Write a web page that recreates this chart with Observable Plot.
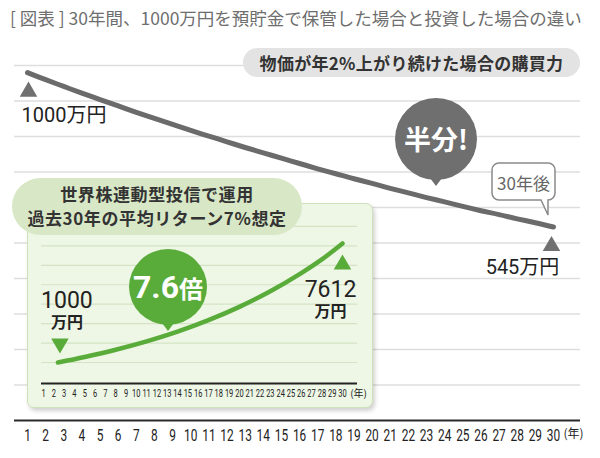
<!DOCTYPE html>
<html>
<head>
<meta charset="utf-8">
<script src="https://cdn.jsdelivr.net/npm/d3@7"></script>
<script src="https://cdn.jsdelivr.net/npm/@observablehq/plot@0.6"></script>
<style>
  body { margin: 0; background: #fff; }
  #wrap { position: relative; width: 600px; height: 458px; overflow: hidden; font-family: "Noto Sans CJK JP", sans-serif; }
  .abs { position: absolute; }
  #title { left: 10px; top: 6px; font-size: 17.5px; line-height: 24px; color: #6e6e6e; white-space: nowrap; }
  #pillGray { left: 243px; top: 48px; width: 337px; height: 29px; border-radius: 15px; background: #e3e3e3; color: #333; font-size: 17px; font-weight: bold; line-height: 29px; text-align: center; letter-spacing: 0.3px; white-space: nowrap; }
  #bubbleGray { left: 395px; top: 98px; width: 82px; height: 82px; border-radius: 50%; background: #6f6f6f; color: #fff; font-size: 27px; font-weight: bold; line-height: 82px; text-align: center; }
  #bubbleGray::after { content: ""; position: absolute; left: 35px; top: 80px; border-left: 6px solid transparent; border-right: 6px solid transparent; border-top: 8px solid #6f6f6f; }
  #box { left: 27px; top: 203px; width: 346px; height: 205px; box-sizing: border-box; border-radius: 7px; background: #eef6e6; border: 1.5px solid #cde2b8; box-shadow: 2px 3px 4px rgba(0,0,0,0.18); }
  #inset { left: 27px; top: 203px; }
  #pillGreen { left: 12px; top: 178px; width: 290px; height: 57px; border-radius: 29px; background: #d8e8c6; color: #333; font-size: 17px; font-weight: bold; line-height: 24px; padding-top: 4px; box-sizing: border-box; text-align: center; letter-spacing: 0.6px; white-space: nowrap; }
  #bubbleGreen { left: 129px; top: 249px; width: 78px; height: 76px; border-radius: 50%; background: #5aac3a; color: #fff; font-weight: bold; line-height: 76px; text-align: center; white-space: nowrap; }
  #bubbleGreen::after { content: ""; position: absolute; left: 33px; top: 74px; border-left: 6px solid transparent; border-right: 6px solid transparent; border-top: 8px solid #5aac3a; }
  #bubbleGreen .n { font-family: Roboto, sans-serif; font-size: 32px; }
  #bubbleGreen .u { font-size: 24px; }
</style>
</head>
<body>
<div id="wrap">
  <div id="main" class="abs" style="left:0;top:0"></div>
  <div id="title" class="abs">[ 図表 ] 30年間、1000万円を預貯金で保管した場合と投資した場合の違い</div>
  <div id="pillGray" class="abs">物価が年2%上がり続けた場合の購買力</div>
  <div id="bubbleGray" class="abs">半分!</div>
  <svg class="abs" style="left:490px;top:161px" width="70" height="58">
    <path d="M9,2 H58 A7,7 0 0 1 65,9 V32 A7,7 0 0 1 58,39 L58,54 L51,39 H9 A7,7 0 0 1 2,32 V9 A7,7 0 0 1 9,2 Z" fill="#fff" stroke="#8a8a8a" stroke-width="1.5"/>
    <text x="33.5" y="21" text-anchor="middle" dominant-baseline="central" font-family="Noto Sans CJK JP, sans-serif" font-size="17" fill="#666">30年後</text>
  </svg>
  <div id="box" class="abs"></div>
  <div id="inset" class="abs"></div>
  <div id="pillGreen" class="abs">世界株連動型投信で運用<br>過去30年の平均リターン7%想定</div>
  <div id="bubbleGreen" class="abs"><span class="n">7.6</span><span class="u">倍</span></div>
</div>
<script>
// ---- data ----
const years = [1,2,3,4,5,6,7,8,9,10,11,12,13,14,15,16,17,18,19,20,21,22,23,24,25,26,27,28,29,30];
const purchasingPower = [980,960,941,922,904,886,868,851,834,817,801,785,769,754,739,724,709,695,681,668,654,641,628,616,603,591,580,568,557,545];
const investYears = [2.4,5,8,11,14,17,20,23,26,28,30];
const investValues = [1000,1306,1706,2172,2711,3350,4089,4956,5967,6728,7612];
const mainGrid = [100,200,300,400,500,600,700,800,900,1000];
const insetGrid = [1000,2080,3160,4240,5320,6400,7480,8560];
const tickLabels = years;
const startLabel = "1000万円";
const endLabel = "545万円";
const investStartNum = "1000", investEndNum = "7612", unitLabel = "万円", yearUnit = "(年)";

const numFont = "Roboto, 'Noto Sans CJK JP', sans-serif";

const grayData = years.map((y, i) => ({year: y, value: purchasingPower[i]}));
const greenData = investYears.map((y, i) => ({year: y, value: investValues[i]}));
const gStart = grayData[0], gEnd = grayData[grayData.length - 1];
const iStart = greenData[0], iEnd = greenData[greenData.length - 1];

// narrow the tick glyphs horizontally (condensed look) around each label's anchor
function condense(svg, factor) {
  svg.querySelectorAll('g[aria-label="x-axis tick label"] text').forEach(t => {
    const tr = t.getAttribute("transform");
    if (tr) {
      t.setAttribute("transform", tr + ` scale(${factor},1)`);
    } else {
      const x = +(t.getAttribute("x") || 0), y = +(t.getAttribute("y") || 0);
      t.removeAttribute("x"); t.removeAttribute("y");
      t.setAttribute("transform", `translate(${x},${y}) scale(${factor},1)`);
    }
  });
}

const main = Plot.plot({
  width: 600, height: 458,
  marginLeft: 27, marginRight: 47, marginTop: 65, marginBottom: 38,
  style: "background: transparent; overflow: visible;",
  x: {domain: [1, 30], axis: null},
  y: {domain: [0, 1000], axis: null},
  marks: [
    Plot.ruleY(mainGrid, {stroke: "#dedede", strokeWidth: 1.3, insetLeft: -13, insetRight: -27}),
    Plot.ruleY([0], {stroke: "#2a2a2a", strokeWidth: 2, insetLeft: -13, insetRight: -27}),
    Plot.line(grayData, {x: "year", y: "value", stroke: "#6b6b6b", strokeWidth: 5, strokeLinecap: "round", curve: "catmull-rom"}),
    Plot.dot([gStart], {x: "year", y: "value", symbol: "triangle", r: 6.5, fill: "#707070", dx: 1, dy: 19}),
    Plot.dot([gEnd], {x: "year", y: "value", symbol: "triangle", r: 6.5, fill: "#707070", dx: -2, dy: 19}),
    Plot.text([gStart], {x: "year", y: "value", text: () => startLabel, textAnchor: "start", dx: -6, dy: 43, fontSize: 20, fill: "#222", fontFamily: numFont}),
    Plot.text([gEnd], {x: "year", y: "value", text: () => endLabel, dx: -31, dy: 41, fontSize: 20, fill: "#222", fontFamily: numFont}),
    Plot.axisX(tickLabels, {label: null, tickSize: 0, tickPadding: 8, fontSize: 17, fontFamily: "Roboto, sans-serif", color: "#222", tickFormat: d => String(d)}),
    Plot.text([30], {x: d => d, y: () => 0, text: () => yearUnit, dx: 20, dy: 14, fontSize: 12, fill: "#222", fontFamily: "'Noto Sans CJK JP', sans-serif"})
  ]
});
document.getElementById("main").appendChild(main);
condense(main, 0.7);

const inset = Plot.plot({
  width: 346, height: 205,
  marginLeft: 16, marginRight: 31, marginTop: 6, marginBottom: 28,
  style: "background: transparent; overflow: visible;",
  x: {domain: [1, 30], axis: null},
  y: {domain: [0, 9500], axis: null},
  marks: [
    Plot.ruleY(insetGrid, {stroke: "#d3e3c4", strokeWidth: 1.2, insetLeft: -2, insetRight: -15}),
    Plot.ruleY([0], {stroke: "#222", strokeWidth: 2, insetLeft: -2, insetRight: -15, dy: 3}),
    Plot.line(greenData, {x: "year", y: "value", stroke: "#5aac3a", strokeWidth: 4.5, strokeLinecap: "round", curve: "catmull-rom"}),
    Plot.dot([iStart], {x: "year", y: "value", symbol: "triangle", rotate: 180, r: 6.5, fill: "#5aac3a", dx: 2, dy: -19}),
    Plot.dot([iEnd], {x: "year", y: "value", symbol: "triangle", r: 6.5, fill: "#5aac3a", dx: 0, dy: 21}),
    Plot.text([iStart], {x: "year", y: "value", text: () => investStartNum, dx: 9, dy: -62, fontSize: 23, fill: "#222", fontFamily: numFont}),
    Plot.text([iStart], {x: "year", y: "value", text: () => unitLabel, dx: 9, dy: -40, fontSize: 16, fontWeight: "bold", fill: "#222", fontFamily: numFont}),
    Plot.text([iEnd], {x: "year", y: "value", text: () => investEndNum, dx: -12, dy: 46, fontSize: 23, fill: "#222", fontFamily: numFont}),
    Plot.text([iEnd], {x: "year", y: "value", text: () => unitLabel, dx: -12, dy: 68, fontSize: 16, fontWeight: "bold", fill: "#222", fontFamily: numFont}),
    Plot.axisX(tickLabels, {label: null, tickSize: 0, tickPadding: 9, fontSize: 11, fontFamily: "Roboto, sans-serif", color: "#222", tickFormat: d => String(d)}),
    Plot.text([30], {x: d => d, y: () => 0, text: () => yearUnit, dx: 16, dy: 13, fontSize: 10, fill: "#222", fontFamily: "'Noto Sans CJK JP', sans-serif"})
  ]
});
document.getElementById("inset").appendChild(inset);
condense(inset, 0.68);
</script>
</body>
</html>
